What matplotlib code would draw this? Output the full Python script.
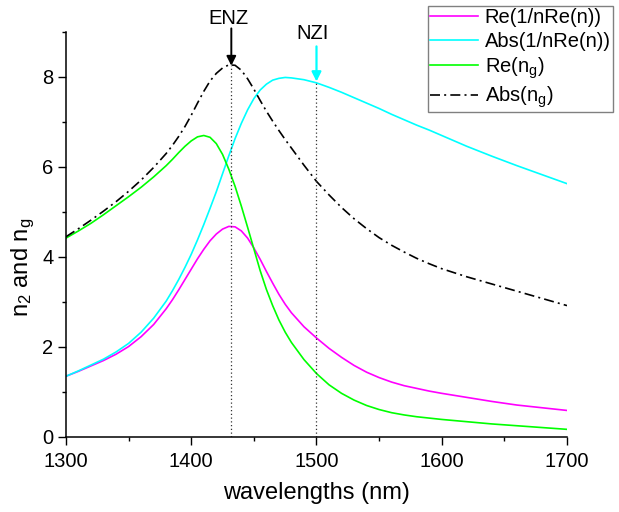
import matplotlib
matplotlib.use('Agg')
import matplotlib.pyplot as plt
from matplotlib.ticker import MultipleLocator

plt.rcParams['font.family'] = ['Liberation Sans', 'DejaVu Sans']
plt.rcParams['mathtext.default'] = 'regular'

# values
wavelength = [1300, 1310, 1320, 1330, 1340, 1350, 1360, 1370, 1380, 1385, 1390, 1395,
              1400, 1405, 1410, 1415, 1420, 1425, 1430, 1435, 1440, 1445, 1450, 1455,
              1460, 1465, 1470, 1475, 1480, 1490, 1500, 1510, 1520, 1530, 1540, 1550,
              1560, 1570, 1580, 1590, 1600, 1620, 1640, 1660, 1680, 1700]
re_inv_n = [1.35, 1.46, 1.58, 1.70, 1.84, 2.01, 2.23, 2.50, 2.85, 3.05, 3.27, 3.50,
            3.73, 3.96, 4.17, 4.36, 4.51, 4.62, 4.68, 4.67, 4.58, 4.42, 4.20, 3.95,
            3.68, 3.42, 3.17, 2.95, 2.76, 2.45, 2.20, 1.97, 1.77, 1.59, 1.44, 1.32,
            1.22, 1.14, 1.08, 1.02, 0.97, 0.88, 0.79, 0.71, 0.65, 0.59]
abs_inv_n = [1.35, 1.47, 1.60, 1.73, 1.89, 2.08, 2.33, 2.64, 3.02, 3.25, 3.50, 3.77,
             4.06, 4.38, 4.72, 5.08, 5.45, 5.85, 6.25, 6.63, 6.97, 7.27, 7.52, 7.71,
             7.84, 7.93, 7.97, 7.99, 7.98, 7.94, 7.87, 7.77, 7.66, 7.54, 7.42, 7.30,
             7.17, 7.05, 6.93, 6.82, 6.70, 6.46, 6.24, 6.03, 5.83, 5.63]
re_ng = [4.42, 4.58, 4.75, 4.94, 5.14, 5.34, 5.55, 5.78, 6.03, 6.17, 6.32, 6.46,
         6.58, 6.67, 6.70, 6.66, 6.52, 6.28, 5.95, 5.57, 5.13, 4.66, 4.18, 3.70,
         3.28, 2.92, 2.60, 2.33, 2.10, 1.72, 1.41, 1.16, 0.97, 0.82, 0.70, 0.61,
         0.54, 0.49, 0.45, 0.42, 0.39, 0.34, 0.29, 0.25, 0.21, 0.17]
abs_ng = [4.45, 4.63, 4.82, 5.02, 5.23, 5.46, 5.71, 5.99, 6.30, 6.48, 6.68, 6.90,
          7.15, 7.42, 7.68, 7.91, 8.08, 8.20, 8.27, 8.26, 8.15, 7.96, 7.73, 7.48,
          7.24, 7.02, 6.81, 6.61, 6.42, 6.04, 5.68, 5.38, 5.10, 4.85, 4.63, 4.43,
          4.26, 4.11, 3.97, 3.85, 3.74, 3.56, 3.40, 3.24, 3.08, 2.92]

enz_x, enz_y = 1432, 8.27
nzi_x, nzi_y = 1500, 7.87

fig = plt.figure(figsize=(6.19, 5.12), dpi=100)
ax = fig.add_axes([0.1066, 0.1465, 0.8094, 0.791])

ax.plot(wavelength, re_inv_n, color='#FF00FF', lw=1.2, label='Re(1/nRe(n))')
ax.plot(wavelength, abs_inv_n, color='#00FFFF', lw=1.2, label='Abs(1/nRe(n))')
ax.plot(wavelength, re_ng, color='#00FF00', lw=1.2, label='Re(n$_g$)')
ax.plot(wavelength, abs_ng, color='black', lw=1.2, dashes=(6, 2.5, 1.2, 2.5), label='Abs(n$_g$)')

# markers for ENZ and NZI
ax.plot([enz_x, enz_x], [0, enz_y], color='#333333', lw=0.9, ls=(0, (1, 2)))
ax.plot([nzi_x, nzi_x], [0, nzi_y], color='#333333', lw=0.9, ls=(0, (1, 2)))
ax.annotate('', xy=(enz_x, enz_y - 0.02), xytext=(enz_x, 9.08), annotation_clip=False,
            arrowprops=dict(arrowstyle='-|>', color='black', lw=1.4, mutation_scale=14,
                            shrinkA=0, shrinkB=0))
ax.annotate('', xy=(nzi_x, nzi_y + 0.03), xytext=(nzi_x, 8.68), annotation_clip=False,
            arrowprops=dict(arrowstyle='-|>', color='#00FFFF', lw=1.6, mutation_scale=14,
                            shrinkA=0, shrinkB=0))
ax.text(enz_x - 2, 9.1, 'ENZ', ha='center', va='bottom', fontsize=14.5, clip_on=False)
ax.text(nzi_x - 3, 8.75, 'NZI', ha='center', va='bottom', fontsize=14.5, clip_on=False)

ax.set_xlim(1300, 1700)
ax.set_ylim(0, 9)
ax.xaxis.set_major_locator(MultipleLocator(100))
ax.xaxis.set_minor_locator(MultipleLocator(50))
ax.yaxis.set_major_locator(MultipleLocator(2))
ax.yaxis.set_minor_locator(MultipleLocator(1))
ax.tick_params(which='major', length=5.5, width=1, labelsize=14.5)
ax.tick_params(which='minor', length=3, width=1)
ax.tick_params(axis='x', which='major', pad=5)
for side in ['top', 'right']:
    ax.spines[side].set_visible(False)
for side in ['left', 'bottom']:
    ax.spines[side].set_linewidth(1.1)

ax.set_xlabel('wavelengths (nm)', fontsize=17, labelpad=8)
ax.set_ylabel('n$_2$ and n$_g$', fontsize=17)
ax.yaxis.set_label_coords(-0.058, 0.42)

leg = ax.legend(loc='upper right', bbox_to_anchor=(0.990, 0.988), bbox_transform=fig.transFigure,
                fontsize=14.5, frameon=True, fancybox=False, framealpha=1, edgecolor='#808080',
                handlelength=2.35, handletextpad=0.35, labelspacing=0.22, borderpad=0.1,
                borderaxespad=0)
leg.get_frame().set_linewidth(1.0)

plt.savefig('out.png', dpi=100)
